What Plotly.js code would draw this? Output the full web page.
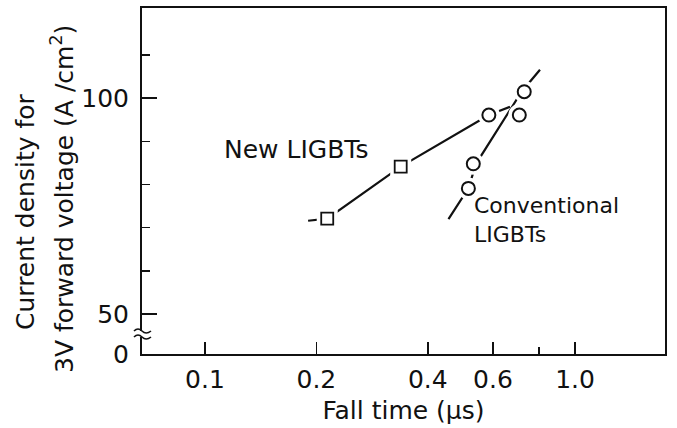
<!DOCTYPE html>
<html>
<head>
<meta charset="utf-8">
<script src="https://cdn.plot.ly/plotly-3.0.1.min.js"></script>
<style>html,body{margin:0;padding:0;background:#fff;}#chart{width:677px;height:428px;}</style>
</head>
<body>
<div id="chart"></div>
<script>
// ---- data ----
const newX = [0.214, 0.338];            // New LIGBTs (squares), fall time (us)
const newY = [72.1, 84.15];             // current density (A/cm2)
const convX = [0.515, 0.531, 0.585, 0.707, 0.729];   // Conventional LIGBTs (circles)
const convY = [79.1, 84.8, 96.1, 96.1, 101.5];
const newLineX = [0.190, 0.214, 0.338, 0.585, 0.667]; // hand-drawn trend line, new
const newLineY = [71.6, 72.1, 84.15, 96.1, 98.0];
const convLineX = [0.455, 0.515, 0.540, 0.717, 0.804]; // hand-drawn trend line, conventional
const convLineY = [72.0, 79.1, 84.8, 101.5, 106.6];
const xTickVals = [0.1, 0.2, 0.4, 0.6, 1.0];
const xTickText = ["0.1", "0.2", "0.4", "0.6", "1.0"];
const xMinorVals = [0.8];
const yTickText = ["0", "50", "100"];
const yMajorVals = [50, 100];
const yMinorVals = [60, 70, 80, 90, 110];

const xMin = 0.0676, xMax = 1.75;
const yMin = 40.73, yMax = 120.9;

const FONT = "DejaVu Sans, Arial, sans-serif";
const INK = "#111";

const traces = [
  {x: newLineX, y: newLineY, mode: "lines", line: {color: INK, width: 2.2}, hoverinfo: "skip"},
  {x: convLineX, y: convLineY, mode: "lines", line: {color: INK, width: 2.2}, hoverinfo: "skip"},
  // white halos that open the gaps where the lines meet the symbols
  {x: newX, y: newY, mode: "markers", marker: {symbol: "square", size: 21, color: "#fff"}, hoverinfo: "skip"},
  {x: convX, y: convY, mode: "markers", marker: {symbol: "circle", size: 22, color: "#fff"}, hoverinfo: "skip"},
  {x: newX, y: newY, mode: "markers", name: "New LIGBTs",
   marker: {symbol: "square", size: 12, color: "#fff", line: {color: INK, width: 1.8}}},
  {x: convX, y: convY, mode: "markers", name: "Conventional LIGBTs",
   marker: {symbol: "circle", size: 13, color: "#fff", line: {color: INK, width: 2}}}
];

const L = 142, R = 12, T = 8, B = 74;
const plotW = 677 - L - R, plotH = 428 - T - B;
const px2paperX = p => (p - L) / plotW;
const py2paperY = p => (428 - B - p) / plotH;

const layout = {
  width: 677, height: 428,
  margin: {l: L, r: R, t: T, b: B, pad: 0},
  paper_bgcolor: "#fff", plot_bgcolor: "#fff",
  showlegend: false,
  font: {family: FONT, size: 25, color: INK},
  xaxis: {
    type: "log", range: [Math.log10(xMin), Math.log10(xMax)],
    showgrid: false, zeroline: false,
    showline: true, mirror: true, linecolor: INK, linewidth: 2,
    ticks: "inside", ticklen: 12, tickwidth: 1.6, tickcolor: INK,
    tickvals: xTickVals, ticktext: xTickText, ticklabelstandoff: 2,
    tickfont: {family: FONT, size: 25, color: INK},
    minor: {tickvals: xMinorVals, ticks: "inside", ticklen: 7, tickwidth: 1.6, tickcolor: INK, showgrid: false},
    title: {text: "Fall time (\u03bcs)", font: {family: FONT, size: 25, color: INK}, standoff: 8}
  },
  yaxis: {
    range: [yMin, yMax],
    showgrid: false, zeroline: false,
    showline: true, mirror: true, linecolor: INK, linewidth: 2,
    ticks: "inside", ticklen: 15, tickwidth: 1.6, tickcolor: INK,
    tickvals: [yMin].concat(yMajorVals), ticktext: yTickText, ticklabelstandoff: 6,
    tickfont: {family: FONT, size: 25, color: INK},
    minor: {tickvals: yMinorVals, ticks: "inside", ticklen: 8, tickwidth: 1.6, tickcolor: INK, showgrid: false}
  },
  annotations: [
    // y-axis title, two lines
    {text: "Current density for", textangle: -90, xref: "paper", yref: "paper",
     x: px2paperX(25), y: py2paperY(212), xanchor: "center", yanchor: "middle",
     showarrow: false, font: {family: FONT, size: 25, color: INK}},
    {text: "3V forward voltage (A /cm<sup>2</sup>)", textangle: -90, xref: "paper", yref: "paper",
     x: px2paperX(62), y: py2paperY(199), xanchor: "center", yanchor: "middle",
     showarrow: false, font: {family: FONT, size: 25, color: INK}},
    {text: "New LIGBTs", x: Math.log10(0.1112), y: 88.0, xref: "x", yref: "y",
     xanchor: "left", yanchor: "middle", showarrow: false, font: {family: FONT, size: 25, color: INK}},
    {text: "Conventional<br>LIGBTs", align: "left", x: Math.log10(0.527), y: 71.8, xref: "x", yref: "y",
     xanchor: "left", yanchor: "middle", showarrow: false, font: {family: FONT, size: 22, color: INK}}
  ],
  shapes: [
    // axis break (white gap + two wavy strokes) on the y axis
    {type: "rect", xref: "paper", yref: "paper", xsizemode: "pixel", ysizemode: "pixel",
     xanchor: 0, yanchor: py2paperY(334), x0: -3, x1: 3, y0: -3, y1: 3,
     fillcolor: "#fff", line: {width: 0}, layer: "above"},
    {type: "path", xref: "paper", yref: "paper", xsizemode: "pixel", ysizemode: "pixel",
     xanchor: 0, yanchor: py2paperY(334),
     path: "M-8,3 Q-4,7 0,3 Q4,-1 9,3", line: {color: INK, width: 1.6}, layer: "above"},
    {type: "path", xref: "paper", yref: "paper", xsizemode: "pixel", ysizemode: "pixel",
     xanchor: 0, yanchor: py2paperY(334),
     path: "M-8,-3 Q-4,1 0,-3 Q4,-7 9,-3", line: {color: INK, width: 1.6}, layer: "above"}
  ]
};

Plotly.newPlot("chart", traces, layout, {staticPlot: true, displayModeBar: false});
</script>
</body>
</html>
